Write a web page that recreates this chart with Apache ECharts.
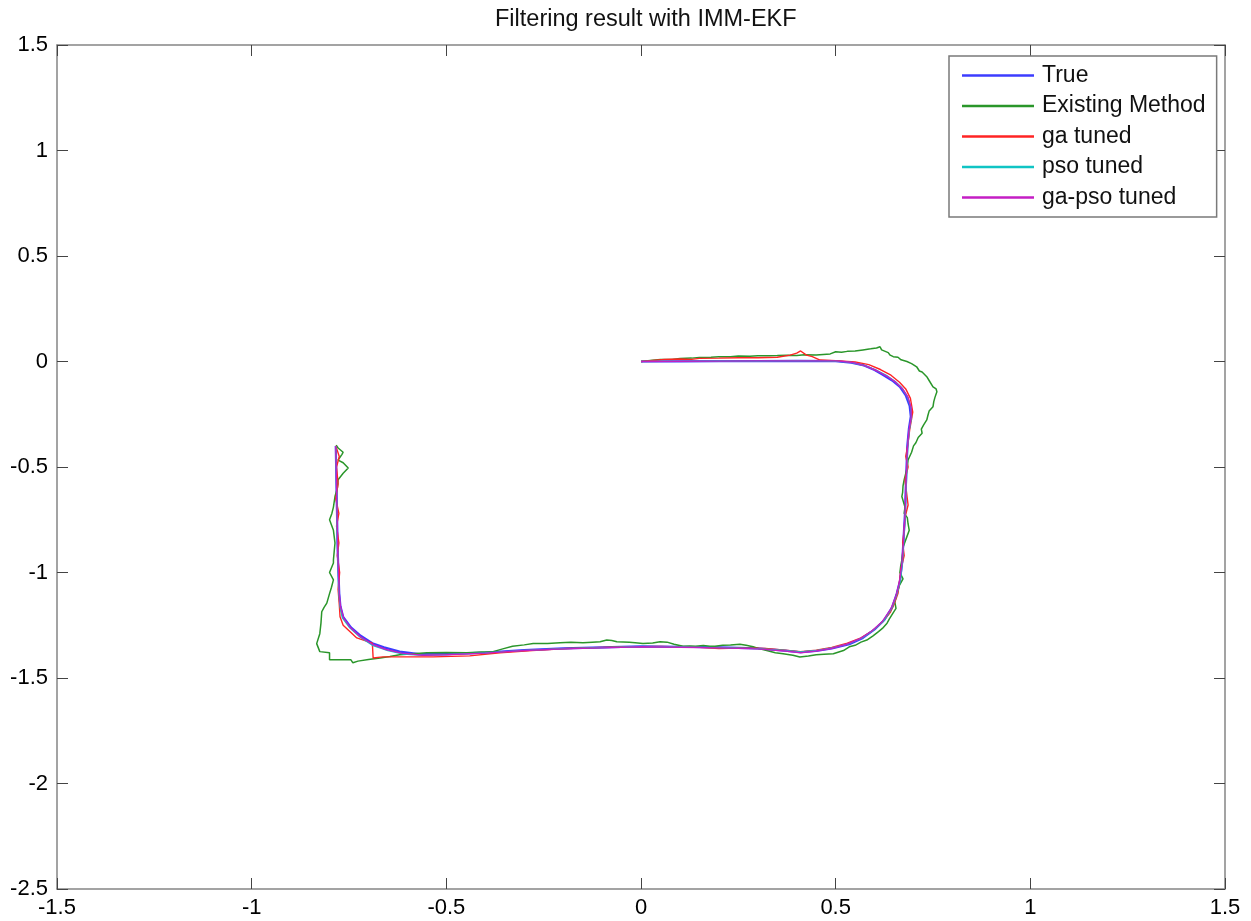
<!DOCTYPE html>
<html>
<head>
<meta charset="utf-8">
<script src="https://cdn.jsdelivr.net/npm/echarts@6/dist/echarts.min.js"></script>
<style>html,body{margin:0;padding:0;background:#fff}#c{width:1251px;height:921px}</style>
</head>
<body>
<div id="c"></div>
<script>
const chartTitle = 'Filtering result with IMM-EKF';
const seriesNames = ['True', 'Existing Method', 'ga tuned', 'pso tuned', 'ga-pso tuned'];
const xTicks = [-1.5, -1, -0.5, 0, 0.5, 1, 1.5];
const yTicks = [-2.5, -2, -1.5, -1, -0.5, 0, 0.5, 1, 1.5];

const trueXY = [[0,0],[0.1,0.001],[0.2,0.002],[0.3,0.002],[0.4,0.003],[0.5,0.002],[0.54,-0.005],[0.57,-0.017],[0.6,-0.04],[0.62,-0.062],[0.645,-0.09],[0.665,-0.12],[0.68,-0.16],[0.69,-0.21],[0.693,-0.26],[0.688,-0.32],[0.684,-0.40],[0.682,-0.50],[0.68,-0.60],[0.678,-0.72],[0.674,-0.85],[0.671,-0.95],[0.665,-1.04],[0.657,-1.10],[0.645,-1.165],[0.625,-1.225],[0.6,-1.27],[0.57,-1.31],[0.535,-1.34],[0.49,-1.36],[0.45,-1.372],[0.41,-1.378],[0.37,-1.37],[0.3,-1.36],[0.2,-1.355],[0.1,-1.352],[0,-1.35],[-0.1,-1.355],[-0.2,-1.36],[-0.3,-1.368],[-0.4,-1.38],[-0.5,-1.387],[-0.57,-1.387],[-0.62,-1.375],[-0.66,-1.355],[-0.69,-1.335],[-0.72,-1.30],[-0.745,-1.26],[-0.765,-1.21],[-0.772,-1.16],[-0.775,-1.10],[-0.777,-1.0],[-0.779,-0.9],[-0.78,-0.8],[-0.781,-0.7],[-0.782,-0.6],[-0.783,-0.5],[-0.784,-0.4]];

const existingXY = [[0,0],[0.03,0.006],[0.05,0.01],[0.08,0.009],[0.1,0.014],[0.13,0.016],[0.15,0.019],[0.18,0.02],[0.2,0.023],[0.23,0.022],[0.25,0.026],[0.28,0.025],[0.3,0.027],[0.33,0.027],[0.35,0.028],[0.375,0.03],[0.4,0.029],[0.42,0.032],[0.45,0.031],[0.486,0.036],[0.50,0.046],[0.515,0.044],[0.53,0.048],[0.55,0.05],[0.57,0.055],[0.59,0.06],[0.605,0.064],[0.614,0.07],[0.618,0.055],[0.62,0.046],[0.635,0.042],[0.64,0.03],[0.648,0.023],[0.66,0.02],[0.668,0.008],[0.683,0],[0.695,-0.01],[0.708,-0.025],[0.715,-0.045],[0.722,-0.05],[0.734,-0.072],[0.74,-0.09],[0.745,-0.095],[0.75,-0.12],[0.758,-0.13],[0.76,-0.143],[0.755,-0.17],[0.752,-0.19],[0.75,-0.214],[0.74,-0.235],[0.737,-0.255],[0.734,-0.277],[0.726,-0.3],[0.72,-0.32],[0.722,-0.34],[0.712,-0.36],[0.706,-0.385],[0.70,-0.40],[0.695,-0.43],[0.69,-0.45],[0.686,-0.467],[0.684,-0.5],[0.68,-0.53],[0.676,-0.56],[0.673,-0.59],[0.672,-0.62],[0.67,-0.64],[0.678,-0.69],[0.676,-0.72],[0.684,-0.74],[0.686,-0.77],[0.689,-0.80],[0.683,-0.83],[0.678,-0.855],[0.673,-0.88],[0.672,-0.91],[0.67,-0.94],[0.667,-0.97],[0.665,-1.0],[0.673,-1.03],[0.664,-1.06],[0.657,-1.10],[0.652,-1.14],[0.655,-1.17],[0.648,-1.19],[0.638,-1.22],[0.632,-1.24],[0.62,-1.265],[0.61,-1.28],[0.596,-1.30],[0.58,-1.32],[0.565,-1.33],[0.55,-1.345],[0.535,-1.352],[0.52,-1.37],[0.494,-1.385],[0.47,-1.387],[0.45,-1.39],[0.43,-1.396],[0.408,-1.40],[0.39,-1.392],[0.365,-1.385],[0.345,-1.38],[0.323,-1.37],[0.305,-1.362],[0.288,-1.352],[0.27,-1.345],[0.254,-1.34],[0.23,-1.344],[0.21,-1.345],[0.19,-1.35],[0.177,-1.35],[0.16,-1.346],[0.14,-1.35],[0.125,-1.348],[0.108,-1.35],[0.085,-1.34],[0.067,-1.33],[0.049,-1.328],[0.03,-1.334],[0.005,-1.337],[-0.015,-1.333],[-0.03,-1.33],[-0.062,-1.328],[-0.075,-1.322],[-0.088,-1.32],[-0.105,-1.328],[-0.125,-1.33],[-0.149,-1.333],[-0.18,-1.331],[-0.208,-1.333],[-0.24,-1.336],[-0.277,-1.337],[-0.3,-1.343],[-0.33,-1.35],[-0.355,-1.362],[-0.38,-1.375],[-0.41,-1.377],[-0.447,-1.38],[-0.5,-1.379],[-0.55,-1.38],[-0.585,-1.385],[-0.62,-1.39],[-0.645,-1.398],[-0.67,-1.405],[-0.7,-1.412],[-0.727,-1.42],[-0.74,-1.428],[-0.745,-1.414],[-0.8,-1.414],[-0.80,-1.38],[-0.825,-1.375],[-0.833,-1.337],[-0.825,-1.29],[-0.822,-1.24],[-0.82,-1.186],[-0.814,-1.165],[-0.807,-1.145],[-0.80,-1.10],[-0.795,-1.07],[-0.79,-1.035],[-0.80,-1.0],[-0.79,-0.955],[-0.79,-0.94],[-0.788,-0.9],[-0.786,-0.86],[-0.79,-0.80],[-0.80,-0.75],[-0.794,-0.72],[-0.79,-0.69],[-0.786,-0.64],[-0.78,-0.60],[-0.778,-0.56],[-0.765,-0.53],[-0.752,-0.505],[-0.765,-0.48],[-0.778,-0.467],[-0.768,-0.44],[-0.765,-0.43],[-0.778,-0.41],[-0.783,-0.396]];

const gaXY = [[0,0],[0.03,0.005],[0.06,0.01],[0.1,0.012],[0.13,0.01],[0.15,0.015],[0.2,0.016],[0.25,0.018],[0.3,0.018],[0.35,0.02],[0.383,0.03],[0.40,0.04],[0.41,0.05],[0.425,0.03],[0.44,0.023],[0.46,0.007],[0.5,0.004],[0.55,-0.002],[0.585,-0.015],[0.615,-0.038],[0.642,-0.065],[0.664,-0.098],[0.68,-0.13],[0.692,-0.175],[0.698,-0.24],[0.69,-0.325],[0.685,-0.40],[0.68,-0.45],[0.686,-0.5],[0.678,-0.56],[0.682,-0.62],[0.686,-0.68],[0.678,-0.74],[0.676,-0.80],[0.672,-0.86],[0.676,-0.92],[0.668,-0.98],[0.664,-1.04],[0.66,-1.10],[0.65,-1.15],[0.64,-1.19],[0.62,-1.235],[0.595,-1.275],[0.565,-1.31],[0.53,-1.335],[0.49,-1.355],[0.45,-1.368],[0.41,-1.375],[0.37,-1.368],[0.32,-1.36],[0.25,-1.358],[0.2,-1.36],[0.15,-1.355],[0.1,-1.353],[0.05,-1.35],[0,-1.352],[-0.05,-1.352],[-0.1,-1.355],[-0.19,-1.36],[-0.28,-1.37],[-0.362,-1.38],[-0.44,-1.395],[-0.534,-1.40],[-0.6,-1.40],[-0.663,-1.40],[-0.688,-1.405],[-0.69,-1.335],[-0.73,-1.31],[-0.765,-1.25],[-0.773,-1.21],[-0.775,-1.15],[-0.778,-1.08],[-0.774,-1.0],[-0.78,-0.92],[-0.776,-0.86],[-0.782,-0.78],[-0.776,-0.72],[-0.784,-0.65],[-0.778,-0.58],[-0.782,-0.5],[-0.775,-0.45],[-0.784,-0.40]];

const psoXY = [[0,0],[0.1,0.002],[0.2,0.003],[0.3,0.002],[0.4,0.004],[0.5,0.002],[0.54,-0.004],[0.575,-0.02],[0.605,-0.042],[0.63,-0.066],[0.652,-0.094],[0.67,-0.125],[0.684,-0.165],[0.693,-0.215],[0.695,-0.262],[0.689,-0.325],[0.685,-0.41],[0.683,-0.5],[0.681,-0.61],[0.679,-0.72],[0.675,-0.85],[0.671,-0.96],[0.666,-1.04],[0.657,-1.105],[0.644,-1.17],[0.624,-1.228],[0.598,-1.272],[0.568,-1.31],[0.533,-1.338],[0.49,-1.358],[0.45,-1.37],[0.41,-1.376],[0.37,-1.37],[0.3,-1.361],[0.2,-1.356],[0.1,-1.353],[0,-1.351],[-0.1,-1.356],[-0.2,-1.361],[-0.3,-1.369],[-0.4,-1.381],[-0.5,-1.389],[-0.56,-1.392],[-0.61,-1.386],[-0.65,-1.37],[-0.69,-1.345],[-0.722,-1.305],[-0.748,-1.262],[-0.767,-1.215],[-0.773,-1.16],[-0.776,-1.1],[-0.778,-1.0],[-0.779,-0.9],[-0.781,-0.8],[-0.781,-0.7],[-0.782,-0.6],[-0.783,-0.5],[-0.784,-0.4]];

const gapsoXY = [[0,0],[0.1,0.001],[0.2,0.002],[0.3,0.003],[0.4,0.003],[0.5,0.003],[0.545,-0.005],[0.578,-0.022],[0.607,-0.045],[0.632,-0.07],[0.654,-0.098],[0.672,-0.13],[0.686,-0.17],[0.694,-0.22],[0.694,-0.265],[0.688,-0.33],[0.684,-0.42],[0.682,-0.51],[0.68,-0.62],[0.678,-0.73],[0.674,-0.86],[0.67,-0.96],[0.664,-1.045],[0.655,-1.11],[0.642,-1.172],[0.62,-1.232],[0.594,-1.276],[0.563,-1.313],[0.528,-1.34],[0.488,-1.36],[0.45,-1.372],[0.41,-1.38],[0.37,-1.372],[0.3,-1.362],[0.2,-1.357],[0.1,-1.354],[0,-1.352],[-0.1,-1.357],[-0.2,-1.362],[-0.3,-1.37],[-0.4,-1.382],[-0.5,-1.39],[-0.56,-1.392],[-0.615,-1.382],[-0.655,-1.365],[-0.69,-1.34],[-0.72,-1.305],[-0.746,-1.262],[-0.764,-1.215],[-0.772,-1.16],[-0.775,-1.1],[-0.777,-1.0],[-0.779,-0.9],[-0.78,-0.8],[-0.781,-0.7],[-0.782,-0.6],[-0.783,-0.5],[-0.784,-0.4]];

const seriesData = [trueXY, existingXY, gaXY, psoXY, gapsoXY];
const colors = ['#3c3cff', '#2a962a', '#ff2424', '#10c4c4', '#c41ec4'];
const widths = [2.2, 1.5, 1.4, 1.4, 1.4];

const font = 'Liberation Sans, Arial, sans-serif';
const axisColor = '#858585';
const textColor = '#000';

function fmt(v) { return String(v); }

const chart = echarts.init(document.getElementById('c'), null, {renderer: 'canvas'});
const baseX = {
  type: 'value', min: xTicks[0], max: xTicks[xTicks.length - 1], interval: 0.5,
  axisLine: {show: true, onZero: false, lineStyle: {color: axisColor, width: 1.5}},
  axisTick: {show: true, inside: true, length: 11, lineStyle: {color: '#444', width: 1}},
  splitLine: {show: false}
};
const baseY = {
  type: 'value', min: yTicks[0], max: yTicks[yTicks.length - 1], interval: 0.5,
  axisLine: {show: true, onZero: false, lineStyle: {color: axisColor, width: 1.5}},
  axisTick: {show: true, inside: true, length: 11, lineStyle: {color: '#444', width: 1}},
  splitLine: {show: false}
};
chart.setOption({
  backgroundColor: '#fff',
  animation: false,
  title: {
    text: chartTitle, left: 495, top: 8, padding: 0,
    textStyle: {fontFamily: font, fontSize: 23.5, fontWeight: 'normal', color: '#111'}
  },
  grid: {left: 57, top: 45, right: 26, bottom: 32, containLabel: false},
  legend: {
    orient: 'vertical', left: 949, top: 56,
    padding: [8, 11, 8, 13], itemGap: 7.5, itemWidth: 72, itemHeight: 2.5,
    icon: 'rect',
    backgroundColor: '#fff', borderColor: '#7a7a7a', borderWidth: 1.5,
    textStyle: {fontFamily: font, fontSize: 23, color: '#111', lineHeight: 23, padding: [0, 0, 0, 3]},
    data: seriesNames
  },
  xAxis: [
    Object.assign({}, baseX, {position: 'bottom',
      axisLabel: {show: true, margin: 8, fontFamily: font, fontSize: 22, color: textColor, formatter: fmt}}),
    Object.assign({}, baseX, {position: 'top', axisLabel: {show: false}})
  ],
  yAxis: [
    Object.assign({}, baseY, {position: 'left',
      axisLabel: {show: true, margin: 9, fontFamily: font, fontSize: 22, color: textColor, formatter: fmt}}),
    Object.assign({}, baseY, {position: 'right', axisLabel: {show: false}})
  ],
  series: seriesNames.map((name, i) => ({
    name: name, type: 'line', data: seriesData[i],
    xAxisIndex: 0, yAxisIndex: 0,
    showSymbol: false, symbol: 'none', smooth: false,
    lineStyle: {color: colors[i], width: widths[i]},
    itemStyle: {color: colors[i]},
    emphasis: {disabled: true}
  }))
});
</script>
</body>
</html>
